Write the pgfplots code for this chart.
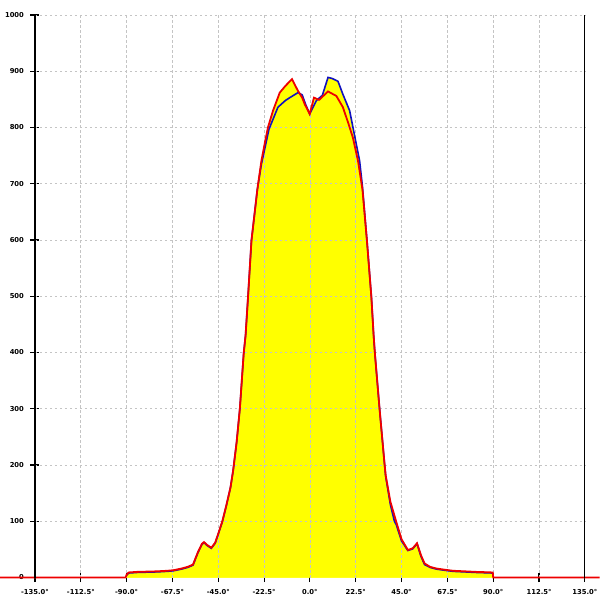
\documentclass[border=0pt]{standalone}
\usepackage{pgfplots}
\pgfplotsset{compat=1.18}
\usepackage{pgfplotstable}
\usepackage{fontspec}
\setmainfont{DejaVu Sans}
\definecolor{cred}{HTML}{EE0000}
\definecolor{cblue}{HTML}{1010C0}
\definecolor{cyel}{HTML}{FFFF00}
\definecolor{cgrid}{HTML}{C4C4C4}
\pgfplotstableread{
x y
-152.2 0
-90.5 0
-90 5
-89 9
-85 10
-80 10.5
-75 11
-70 12
-67 13
-63 16
-60 19
-57.4 23
-55 45
-53 60
-52 63
-50.5 58
-48.4 53
-46.5 62
-45 78
-43 100
-41 129
-39 160
-37.7 190
-36 240
-34.4 300
-32.5 399
-31.6 430
-30.4 498
-28.7 599
-25.8 690
-23.8 741
-22 775
-20.6 800
-18.1 830
-14.8 862
-12 874
-8.8 886
-6 866
-3.8 853
-2.5 841
-0.1 824
2 853
4.5 849
8.9 864
13 856
16.2 836
19 806
21.1 782
23.6 741
25.8 690
28 599
30.2 498
31.3 430
31.9 399
34.2 300
36.7 200
37.2 182
39.5 135
42.4 99
45 68
48.1 49
50.5 52
52.6 61
54.5 40
56.3 25
59 19
62.1 16
66 14
70.2 12
76 11
81.7 10
86 9.5
89.8 9
90 0
142.2 0
}\redtab
\pgfplotstableread{
x y
-90 4
-89 8
-85 9
-80 9.5
-75 10
-70 11
-67 12
-63 15
-60 18
-57.4 22
-55 44
-53 59
-52 62
-50.5 57
-48.4 52
-46.5 61
-45 77
-43 99
-41 128
-39 160
-37.7 190
-36 240
-34.4 300
-32.5 399
-31.6 430
-30.4 498
-28.7 599
-25.8 690
-23.8 735
-22 765
-20.1 797
-17.5 820
-15.7 836
-12 848
-9.9 853
-5.8 862
-3.8 858
-2 840
-0.1 824
3.2 848
6.1 857
8.9 889
11 887
13.8 882
16.2 859
19.5 830
22.8 770
24.4 741
25.8 695
28 600
30.2 498
31.3 430
31.9 399
34.2 300
36.7 200
37.2 180
39.5 130
41.5 100
42.4 94
45 65
48.1 48
50.5 51
52.6 60
54.5 38
56.3 23
59 18
62.1 15
66 13
70.2 11
76 10
81.7 9
86 8.5
89.8 8
}\bluetab
\begin{document}
\begin{tikzpicture}
\begin{axis}[
  scale only axis, width=550.3pt, height=563pt,
  xmin=-135, xmax=135, ymin=0, ymax=1000,
  clip=false,
  axis line style={draw=none},
  xtick={-135,-112.5,-90,-67.5,-45,-22.5,0,22.5,45,67.5,90,112.5,135},
  xticklabels={-135.0°,-112.5°,-90.0°,-67.5°,-45.0°,-22.5°,0.0°,22.5°,45.0°,67.5°,90.0°,112.5°,135.0°},
  ytick={0,100,200,300,400,500,600,700,800,900,1000},
  yticklabels={0,100,200,300,400,500,600,700,800,900,1000},
  tick align=center, major tick length=9pt,
  tick style={black, line width=1.1pt},
  xtick pos=bottom, ytick pos=left,
  tick label style={font=\fontsize{6.8}{8}\selectfont\bfseries},
  xticklabel style={anchor=center, yshift=-9.5pt},
  yticklabel style={anchor=east, xshift=-3pt},
]
\addplot[fill=cyel, draw=none] table[x=x,y=y] {\bluetab} \closedcycle;
\addplot[fill=cyel, draw=none] table[x=x,y=y] {\redtab} \closedcycle;
\pgfplotsinvokeforeach{-112.5,-90,-67.5,-45,-22.5,0,22.5,45,67.5,90,112.5}{
  \draw[cgrid, dash pattern=on 2.5pt off 2.5pt, line width=0.8pt] (axis cs:#1,0) -- (axis cs:#1,1000);
}
\pgfplotsinvokeforeach{100,200,300,400,500,600,700,800,900,1000}{
  \draw[cgrid, dash pattern=on 2.5pt off 2.5pt, line width=0.8pt] (axis cs:-135,#1) -- (axis cs:135,#1);
}
\addplot[cblue, line width=1.6pt, mark=none] table[x=x,y=y] {\bluetab};
\addplot[cred, line width=1.8pt, mark=none] table[x=x,y=y] {\redtab};
\draw[black, line width=1.1pt] (axis cs:-135,0) -- (axis cs:-135,1000);
\draw[black, line width=1.1pt] (axis cs:135,0) -- (axis cs:135,1000);
\coordinate (BL) at (axis cs:-152.17,-39.96);
\coordinate (TR) at (axis cs:142.21,1026.6);
\end{axis}
\pgfresetboundingbox
\path (BL) rectangle (TR);
\end{tikzpicture}
\end{document}
